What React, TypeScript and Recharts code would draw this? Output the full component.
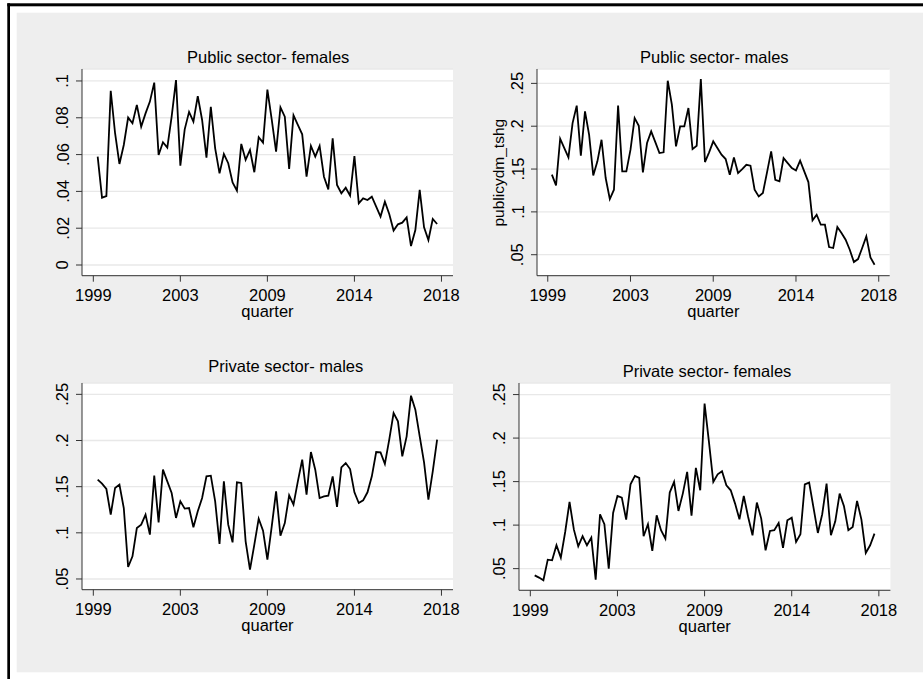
import { CartesianGrid, Line, LineChart, XAxis, YAxis } from "recharts";

const FONT = '"Liberation Sans", Arial, Helvetica, sans-serif';

// quarter index of each tick and the year printed under it
const xTicks = [-1, 19, 39, 59, 79];
const xTickLabels = ["1999", "2003", "2009", "2014", "2018"];

const publicFemaleTicks = [0, 0.02, 0.04, 0.06, 0.08, 0.1];
const shareTicks = [0.05, 0.1, 0.15, 0.2, 0.25];

const publicFemales = [
  0.0589, 0.0366, 0.0375, 0.0947, 0.0716, 0.0549, 0.0652, 0.0801, 0.077, 0.087,
  0.0752, 0.0824, 0.0888, 0.0991, 0.0598, 0.0667, 0.0638, 0.0806, 0.1005, 0.054,
  0.0737, 0.0832, 0.0779, 0.0918, 0.0788, 0.0583, 0.086, 0.0634, 0.0498, 0.0603,
  0.0553, 0.0449, 0.0404, 0.0658, 0.0571, 0.0625, 0.0504, 0.0694, 0.0665, 0.0953,
  0.079, 0.0616, 0.0857, 0.0806, 0.0522, 0.0813, 0.0761, 0.071, 0.048, 0.0647,
  0.0589, 0.0647, 0.048, 0.0411, 0.0688, 0.0435, 0.039, 0.042, 0.0377, 0.0592,
  0.0335, 0.0362, 0.0353, 0.0371, 0.0317, 0.0263, 0.0344, 0.0277, 0.0187, 0.0221,
  0.023, 0.0259, 0.0103, 0.019, 0.0408, 0.0205, 0.0136, 0.025, 0.0223,
];

const publicMales = [
  0.1434, 0.131, 0.1854, 0.1745, 0.1636, 0.2037, 0.224, 0.1656, 0.2173, 0.19,
  0.1426, 0.159, 0.1842, 0.1395, 0.115, 0.1259, 0.224, 0.1473, 0.1473, 0.1726,
  0.2095, 0.2006, 0.1461, 0.1804, 0.194, 0.1815, 0.1687, 0.1695, 0.2531, 0.2251,
  0.1765, 0.1998, 0.1998, 0.2212, 0.1733, 0.1772, 0.2551, 0.1582, 0.1695, 0.1823,
  0.1745, 0.1667, 0.1617, 0.1434, 0.1636, 0.1453, 0.15, 0.155, 0.1539, 0.1259,
  0.1181, 0.122, 0.1461, 0.1706, 0.1375, 0.1356, 0.1628, 0.157, 0.1512, 0.1484,
  0.1597, 0.1473, 0.1348, 0.0901, 0.0967, 0.085, 0.085, 0.0589, 0.0578, 0.0823,
  0.0753, 0.0675, 0.0558, 0.0414, 0.0449, 0.0578, 0.0714, 0.0469, 0.0383,
];

const privateMales = [
  0.1576, 0.1532, 0.1475, 0.1197, 0.1486, 0.1522, 0.1269, 0.063, 0.0745, 0.1052,
  0.1088, 0.1197, 0.098, 0.1619, 0.1114, 0.1684, 0.1558, 0.1431, 0.1161, 0.1341,
  0.1262, 0.1269, 0.106, 0.1233, 0.1377, 0.1612, 0.1619, 0.1341, 0.0879, 0.1558,
  0.1088, 0.0897, 0.1547, 0.154, 0.0908, 0.0601, 0.0872, 0.1153, 0.1023, 0.0709,
  0.107, 0.1449, 0.0969, 0.1106, 0.1406, 0.1305, 0.1558, 0.1792, 0.1413, 0.1875,
  0.1684, 0.1377, 0.1395, 0.1403, 0.1612, 0.128, 0.1709, 0.1756, 0.1691, 0.1439,
  0.1323, 0.1352, 0.1439, 0.1612, 0.1875, 0.1872, 0.1746, 0.2009, 0.2298, 0.2208,
  0.1829, 0.2045, 0.2486, 0.2334, 0.2045, 0.1764, 0.1359, 0.1666, 0.2009,
];

const privateFemales = [
  0.0423, 0.0397, 0.0366, 0.0603, 0.0596, 0.0768, 0.0626, 0.0921, 0.1266, 0.0948,
  0.0757, 0.0872, 0.0768, 0.0856, 0.0374, 0.1125, 0.101, 0.05, 0.114, 0.1335,
  0.1316, 0.1063, 0.1469, 0.1565, 0.1542, 0.0872, 0.101, 0.0703, 0.1113, 0.0941,
  0.0845, 0.1374, 0.1496, 0.1163, 0.1362, 0.1611, 0.1109, 0.1657, 0.14, 0.2397,
  0.1956, 0.1496, 0.1584, 0.1619, 0.1458, 0.14, 0.1247, 0.1067, 0.1335, 0.1094,
  0.0883, 0.1259, 0.1075, 0.0711, 0.0933, 0.0941, 0.1025, 0.0738, 0.1056, 0.1086,
  0.0807, 0.0895, 0.1469, 0.1489, 0.1201, 0.091, 0.1125, 0.1477, 0.0883, 0.1044,
  0.1362, 0.1216, 0.0941, 0.0979, 0.1278, 0.1063, 0.068, 0.0768, 0.0902,
];

const AXIS_W = 75;
const AXIS_H = 60;
const PAD = 8;
const FS = 16.5;

type Box = { left: number; top: number; right: number; bottom: number };

// stata style: ".05" instead of "0.05"
function fmtShare(v: number) {
  if (v === 0) return "0";
  return String(+v.toFixed(2)).replace(/^0\./, ".");
}

function YTick(props: any) {
  const { x, y, payload } = props;
  const bx = x - 7.5;
  return (
    <text
      x={bx}
      y={y}
      transform={`rotate(-90 ${bx} ${y})`}
      textAnchor="middle"
      fontSize={FS}
      fontFamily={FONT}
      fill="#000"
    >
      {fmtShare(payload.value)}
    </text>
  );
}

function Panel({
  values,
  yTicks,
  yDomain,
  plot,
}: {
  values: number[];
  yTicks: number[];
  yDomain: [number, number];
  plot: Box;
}) {
  const w = plot.right - plot.left;
  const h = plot.bottom - plot.top;
  const data = values.map((v, i) => ({ q: i, v }));

  return (
    <div style={{ position: "absolute", left: plot.left - AXIS_W, top: plot.top - PAD }}>
      <LineChart
        width={w + AXIS_W + PAD}
        height={h + PAD + AXIS_H}
        data={data}
        margin={{ top: PAD, right: PAD, bottom: 0, left: 0 }}
      >
        <CartesianGrid vertical={false} fill="#fff" stroke="#e8e8e8" strokeWidth={1.3} />
        <XAxis
          type="number"
          dataKey="q"
          domain={[-3.6, 81.65]}
          ticks={xTicks}
          interval={0}
          allowDataOverflow
          tickFormatter={(v: number) => xTickLabels[xTicks.indexOf(v)] ?? ""}
          height={AXIS_H}
          tickSize={6}
          tickMargin={7.5}
          stroke="#333"
          tick={{ fill: "#000", fontSize: FS, fontFamily: FONT }}
          label={{
            value: "quarter",
            position: "insideBottom",
            offset: 18.3,
            fill: "#000",
            fontSize: FS,
            fontFamily: FONT,
          }}
        />
        <YAxis
          type="number"
          domain={yDomain}
          ticks={yTicks}
          interval={0}
          allowDataOverflow
          width={AXIS_W}
          tickSize={6}
          tickMargin={0}
          stroke="#333"
          tick={<YTick />}
        />
        <Line
          type="linear"
          dataKey="v"
          stroke="#000"
          strokeWidth={1.8}
          dot={false}
          isAnimationActive={false}
        />
      </LineChart>
    </div>
  );
}

const titleStyle = { fontSize: FS, fontFamily: FONT, fill: "#000" };

export default function App() {
  return (
    <div
      style={{
        position: "absolute",
        left: 0,
        top: 0,
        width: 923,
        height: 679,
        background: "#fff",
        overflow: "hidden",
      }}
    >
      <svg width={923} height={679} style={{ position: "absolute", left: 0, top: 0 }}>
        <rect x={7.3} y={3.3} width={916} height={3} fill="#000" />
        <rect x={7.3} y={3.3} width={2.7} height={676} fill="#000" />
        <rect x={16.7} y={12.7} width={907} height={659.6} fill="#eeeeee" />
        <text x={268.2} y={62.5} textAnchor="middle" {...titleStyle}>
          Public sector- females
        </text>
        <text x={714.3} y={62.5} textAnchor="middle" {...titleStyle}>
          Public sector- males
        </text>
        <text x={285.8} y={372} textAnchor="middle" {...titleStyle}>
          Private sector- males
        </text>
        <text x={707} y={377.3} textAnchor="middle" {...titleStyle}>
          Private sector- females
        </text>
        <text
          x={504.3}
          y={172.7}
          transform="rotate(-90 504.3 172.7)"
          textAnchor="middle"
          fontSize={15.5}
          fontFamily={FONT}
          fill="#000"
        >
          publicydm_tshg
        </text>
      </svg>

      <Panel
        values={publicFemales}
        yTicks={publicFemaleTicks}
        yDomain={[-0.0058, 0.1065]}
        plot={{ left: 81.7, top: 69.3, right: 452.7, bottom: 276 }}
      />
      <Panel
        values={publicMales}
        yTicks={shareTicks}
        yDomain={[0.0255, 0.2668]}
        plot={{ left: 537.3, top: 69.3, right: 890, bottom: 276 }}
      />
      <Panel
        values={privateMales}
        yTicks={shareTicks}
        yDomain={[0.0384, 0.2623]}
        plot={{ left: 81.7, top: 383.3, right: 452.7, bottom: 590 }}
      />
      <Panel
        values={privateFemales}
        yTicks={shareTicks}
        yDomain={[0.0251, 0.2633]}
        plot={{ left: 519.3, top: 382.7, right: 890.7, bottom: 590 }}
      />
    </div>
  );
}
